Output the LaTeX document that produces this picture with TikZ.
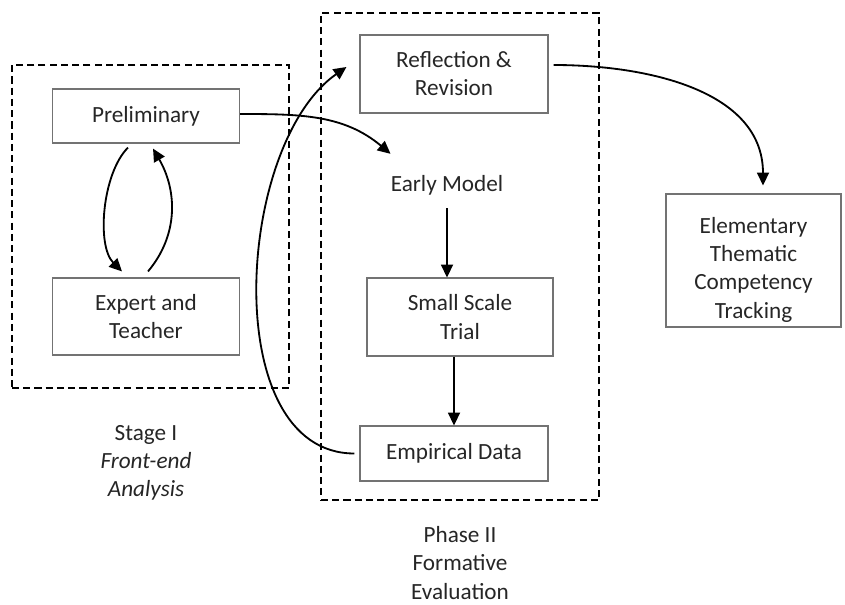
\documentclass[tikz,border=0pt]{standalone}
\usepackage{fontspec}
\setmainfont{Carlito}
\usetikzlibrary{arrows.meta}

\begin{document}
\begin{tikzpicture}[
    box/.style={rectangle, draw=black!55, line width=0.8pt, align=center, text=black!85, font=\fontsize{16.5}{20}\selectfont},
    frame/.style={rectangle, draw, line width=0.8pt, dash pattern=on 5pt off 3pt},
    caption/.style={align=center, text=black!85, font=\fontsize{16.5}{20}\selectfont},
    link/.style={-{Triangle[length=0.32cm,width=0.3cm]}, line width=1.3pt}
]
    \useasboundingbox (0,0) rectangle (21.125,-15.125);
    \node[frame, minimum width=6.925cm, minimum height=8.075cm] (stage) at (3.7625,-5.6625) {};
    \node[frame, minimum width=6.95cm, minimum height=12.175cm] (phase) at (11.5,-6.4125) {};
    \node[box, minimum width=4.675cm, minimum height=1.35cm] (pre) at (3.65,-2.9) {Preliminary};
    \node[box, minimum width=4.675cm, minimum height=1.925cm] (expert) at (3.65,-7.9125) {Expert and\\Teacher};
    \node[box, minimum width=4.7cm, minimum height=1.95cm] (refl) at (11.35,-1.85) {Reflection \&\\Revision};
    \node[caption, inner sep=0pt] (early) at (11.175,-4.625) {Early Model};
    \node[box, minimum width=4.65cm, minimum height=1.95cm] (trial) at (11.5,-7.925) {Small Scale\\Trial};
    \node[box, minimum width=4.7cm, minimum height=1.375cm] (empir) at (11.35,-11.3375) {Empirical Data};
    \node[box, minimum width=4.375cm, minimum height=3.325cm, text height=2.98cm] (track) at (18.8375,-6.5125) {Elementary\\Thematic\\Competency\\Tracking};
    \node[caption] (stagelbl) at (3.65,-11.575) {Stage I\\\textit{Front-end}\\\textit{Analysis}};
    \node[caption] (phaselbl) at (11.5,-14.075) {Phase II\\Formative\\Evaluation};

    \draw[link] ([xshift=-0.45cm,yshift=-0.1cm]pre.south) to[out=-135,in=135,looseness=0.75] ([xshift=-0.6cm,yshift=0.15cm]expert.north);
    \draw[link] ([xshift=0.05cm,yshift=0.15cm]expert.north) to[out=50,in=-60] ([xshift=0.175cm,yshift=-0.125cm]pre.south);
    \draw[link] ([yshift=0.05cm]pre.east) to[out=0,in=140] ([yshift=0.525cm]early.north west);
    \draw[link, shorten <=0.325cm] (early.south) -- (early.south |- trial.north);
    \draw[link] (trial.south -| empir.north) -- (empir.north);
    \draw[link] ([xshift=-0.125cm]empir.west) to[out=180,in=-145,looseness=0.9] ([xshift=-0.325cm,yshift=0.175cm]refl.west);
    \draw[link] ([xshift=0.125cm,yshift=0.225cm]refl.east) to[out=0,in=90] ([xshift=0.2375cm,yshift=0.2cm]track.north);
\end{tikzpicture}
\end{document}
